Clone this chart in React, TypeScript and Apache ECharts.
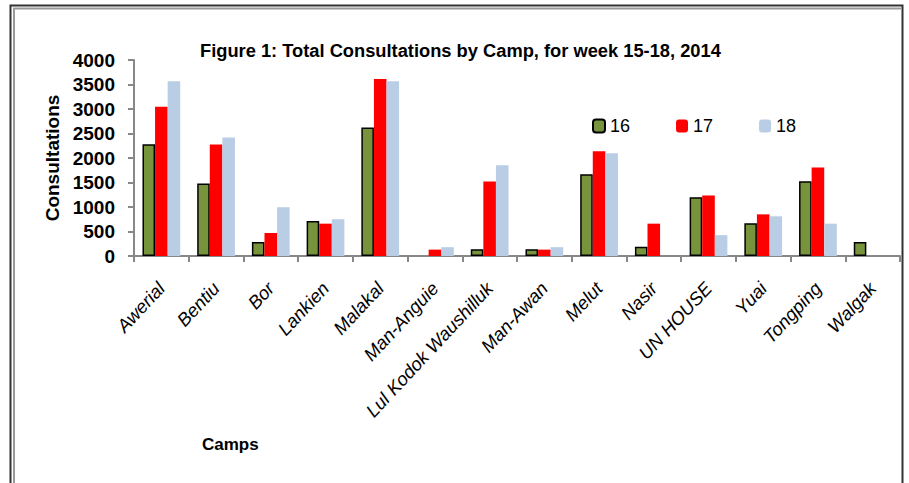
import React, { useEffect, useRef } from "react";
import * as echarts from "echarts";

const camps = [
  "Awerial", "Bentiu", "Bor", "Lankien", "Malakal", "Man-Anguie",
  "Lul Kodok Waushilluk", "Man-Awan", "Melut", "Nasir", "UN HOUSE",
  "Yuai", "Tongping", "Walgak",
];
const week16 = [2280, 1480, 285, 715, 2625, null, 140, 140, 1670, 190, 1200, 670, 1525, 285];
const week17 = [3045, 2275, 470, 660, 3610, 130, 1520, 130, 2140, 660, 1235, 850, 1805, null];
const week18 = [3565, 2420, 995, 750, 3565, 180, 1850, 180, 2095, null, 425, 810, 660, null];
const yTicks = { min: 0, max: 4000, interval: 500 };
const titleText = "Figure 1: Total Consultations by Camp, for week 15-18, 2014";

const FONT = "'Liberation Sans', Arial, sans-serif";

export default function App() {
  const ref = useRef<HTMLDivElement>(null);
  useEffect(() => {
    const chart = echarts.init(ref.current!, null, { renderer: "svg" });
    chart.setOption({
      animation: false,
      backgroundColor: "#fff",
      title: {
        text: titleText,
        left: 195,
        top: 36,
        textStyle: { fontFamily: FONT, fontWeight: "bold", fontSize: 18.3, color: "#000" },
      },
      legend: {
        left: 587,
        top: 112,
        itemWidth: 12,
        itemHeight: 13,
        itemGap: 46,
        textStyle: { fontFamily: FONT, fontSize: 18, color: "#000", padding: [0, 0, 0, 0] },
        data: ["16", "17", "18"],
      },
      grid: { left: 134, right: 9, top: 60, bottom: 227, containLabel: false },
      xAxis: {
        type: "category",
        data: camps,
        axisLine: { lineStyle: { color: "#888", width: 2 } },
        axisTick: { show: true, length: 6, lineStyle: { color: "#888", width: 2 } },
        axisLabel: {
          interval: 0,
          rotate: 47,
          margin: 29,
          fontFamily: FONT,
          fontStyle: "italic",
          fontSize: 18.5,
          color: "#000",
        },
      },
      yAxis: {
        type: "value",
        min: yTicks.min,
        max: yTicks.max,
        interval: yTicks.interval,
        name: "Consultations",
        nameLocation: "middle",
        nameGap: 71,
        nameTextStyle: { fontFamily: FONT, fontWeight: "bold", fontSize: 19, color: "#000" },
        splitLine: { show: false },
        axisLine: { show: true, lineStyle: { color: "#888", width: 2 } },
        axisTick: { show: true, length: 6, lineStyle: { color: "#888", width: 2 } },
        axisLabel: {
          margin: 19,
          fontFamily: FONT,
          fontWeight: "bold",
          fontSize: 19,
          color: "#000",
          formatter: (v: number) => String(v),
        },
      },
      series: [
        {
          name: "16",
          type: "bar",
          data: week16,
          barGap: "0%",
          barCategoryGap: "31%",
          itemStyle: { color: "#77933C", borderColor: "#000", borderWidth: 1.5 },
        },
        {
          name: "17",
          type: "bar",
          data: week17,
          barGap: "0%",
          barCategoryGap: "31%",
          itemStyle: { color: "#FF0000" },
        },
        {
          name: "18",
          type: "bar",
          data: week18,
          barGap: "0%",
          barCategoryGap: "31%",
          itemStyle: { color: "#B9CDE5" },
        },
      ],
      graphic: [
        {
          type: "polyline",
          shape: { points: [[10.5, 490], [10.5, 5.5], [902.5, 5.5], [902.5, 490]] },
          style: { stroke: "#333", lineWidth: 2, fill: null },
          silent: true,
        },
        {
          type: "polyline",
          shape: { points: [[14, 490], [14, 8.5], [901, 8.5]] },
          style: { stroke: "#999", lineWidth: 2, fill: null },
          silent: true,
        },
        {
          type: "text",
          left: 202,
          top: 436,
          style: { text: "Camps", fontFamily: FONT, fontWeight: "bold", fontSize: 17, fill: "#000" },
        },
      ],
    });
    return () => chart.dispose();
  }, []);
  return <div ref={ref} style={{ width: 909, height: 483, position: "absolute", left: 0, top: 0 }} />;
}
